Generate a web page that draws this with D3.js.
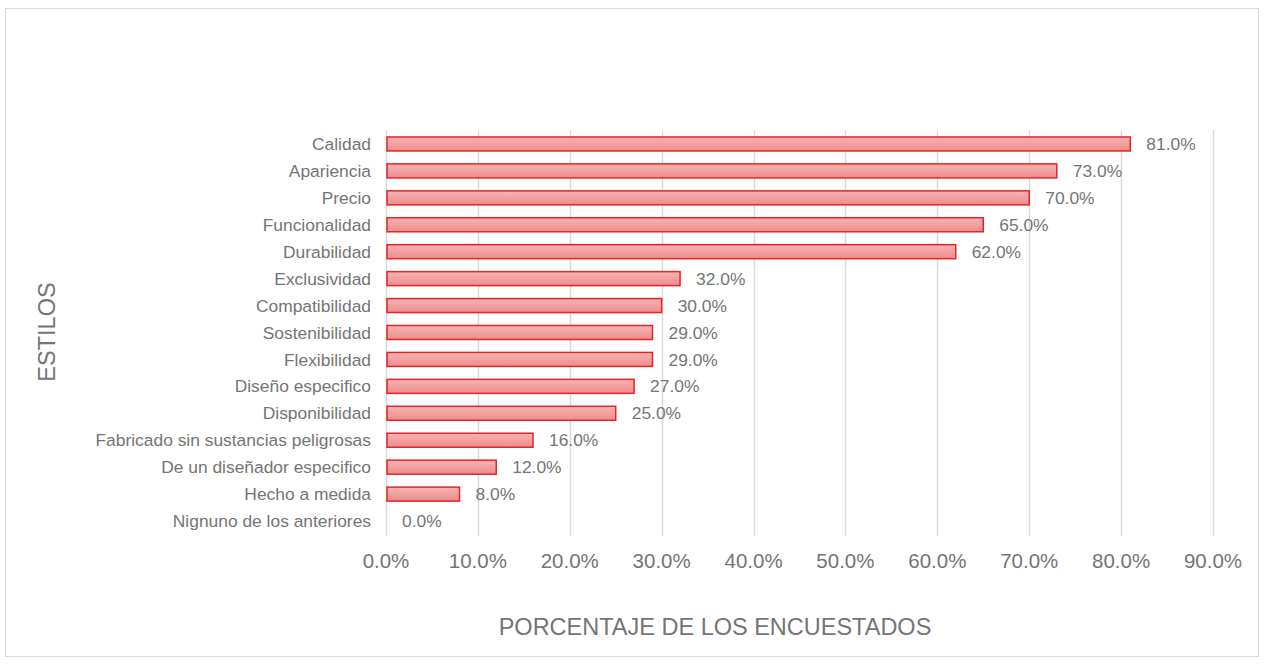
<!DOCTYPE html>
<html>
<head>
<meta charset="utf-8">
<script src="https://cdn.jsdelivr.net/npm/d3@7"></script>
<style>
  body { margin: 0; background: #fff; }
  svg { font-family: "Liberation Sans", Arial, sans-serif; }
</style>
</head>
<body>
<div id="chart"></div>
<script>
const categories = [
    'Calidad', 'Apariencia', 'Precio', 'Funcionalidad', 'Durabilidad',
    'Exclusividad', 'Compatibilidad', 'Sostenibilidad', 'Flexibilidad',
    'Diseño especifico', 'Disponibilidad', 'Fabricado sin sustancias peligrosas',
    'De un diseñador especifico', 'Hecho a medida', 'Nignuno de los anteriores'
];
const values = [0.81, 0.73, 0.70, 0.65, 0.62, 0.32, 0.30, 0.29, 0.29, 0.27, 0.25, 0.16, 0.12, 0.08, 0.0];
const x_ticks = [0, 0.1, 0.2, 0.3, 0.4, 0.5, 0.6, 0.7, 0.8, 0.9];

const chart_width = 1264;
const chart_height = 664;
const text_color = '#757575';

const svg = d3.select('#chart')
    .append('svg')
    .attr('width', chart_width)
    .attr('height', chart_height);

// outer frame
svg.append('rect')
    .attr('x', 5.5).attr('y', 8.5)
    .attr('width', 1253).attr('height', 648)
    .attr('fill', '#fff')
    .attr('stroke', '#d9d9d9')
    .attr('stroke-width', 1);

const grad = svg.append('defs').append('linearGradient')
    .attr('id', 'barFill')
    .attr('x1', 0).attr('y1', 0).attr('x2', 0).attr('y2', 1);
grad.append('stop').attr('offset', '0%').attr('stop-color', '#f7b3b3');
grad.append('stop').attr('offset', '100%').attr('stop-color', '#ee8c8c');

// scales
const x_scale = d3.scaleLinear()
    .domain([0, 0.9])
    .range([386, 1213]);

const y_scale = d3.scaleBand()
    .domain(categories)
    .range([130.5, 534.5])
    .paddingInner(0.48)
    .paddingOuter(0.24);

// gridlines
svg.selectAll('.grid')
    .data(x_ticks)
    .enter()
    .append('line')
    .attr('x1', d => Math.round(x_scale(d)) + 0.5)
    .attr('x2', d => Math.round(x_scale(d)) + 0.5)
    .attr('y1', 130)
    .attr('y2', 536)
    .attr('stroke', '#d9d9d9')
    .attr('stroke-width', 1.5);

// x tick labels
svg.selectAll('.xtick')
    .data(x_ticks)
    .enter()
    .append('text')
    .attr('x', d => x_scale(d))
    .attr('y', 568)
    .attr('text-anchor', 'middle')
    .attr('font-size', 20.5)
    .attr('fill', text_color)
    .text(d => d3.format('.1%')(d));

// bars
svg.selectAll('.bar')
    .data(values)
    .enter()
    .append('rect')
    .attr('x', x_scale(0) + 1)
    .attr('y', (d, i) => y_scale(categories[i]))
    .attr('width', d => Math.max(0, x_scale(d) - x_scale(0) - 1))
    .attr('height', y_scale.bandwidth())
    .attr('fill', 'url(#barFill)')
    .attr('stroke', d => d > 0 ? '#e02626' : 'none')
    .attr('stroke-width', 1.5);

// category labels
svg.selectAll('.cat')
    .data(categories)
    .enter()
    .append('text')
    .attr('x', 371)
    .attr('y', d => y_scale(d) + y_scale.bandwidth() / 2)
    .attr('dy', '0.35em')
    .attr('text-anchor', 'end')
    .attr('font-size', 17.4)
    .attr('fill', text_color)
    .text(d => d);

// data labels
svg.selectAll('.val')
    .data(values)
    .enter()
    .append('text')
    .attr('x', d => x_scale(d) + 16)
    .attr('y', (d, i) => y_scale(categories[i]) + y_scale.bandwidth() / 2)
    .attr('dy', '0.35em')
    .attr('font-size', 17.4)
    .attr('fill', text_color)
    .text(d => d3.format('.1%')(d));

// axis titles
svg.append('text')
    .attr('x', 715)
    .attr('y', 635)
    .attr('text-anchor', 'middle')
    .attr('font-size', 23.5)
    .attr('fill', text_color)
    .text('PORCENTAJE DE LOS ENCUESTADOS');

svg.append('text')
    .attr('transform', 'translate(55,332) rotate(-90)')
    .attr('text-anchor', 'middle')
    .attr('font-size', 23.5)
    .attr('fill', text_color)
    .text('ESTILOS');
</script>
</body>
</html>
